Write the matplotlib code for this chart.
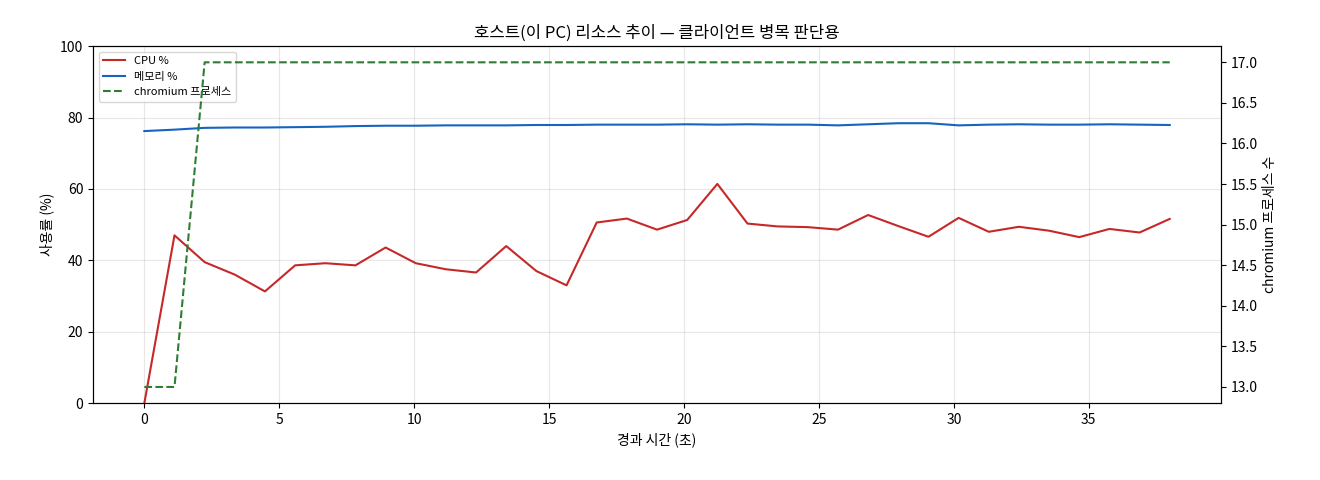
import numpy as np
import matplotlib
matplotlib.use("Agg")
import matplotlib.pyplot as plt

plt.rcParams['font.family'] = ['Noto Sans CJK KR', 'DejaVu Sans']

# 35 samples over ~38 s
elapsed = np.linspace(0, 38, 35)
cpu = [0, 47, 39.5, 36, 31.3, 38.6, 39.2, 38.6, 43.6, 39.2, 37.5, 36.6, 44, 37, 33,
       50.6, 51.7, 48.6, 51.3, 61.4, 50.3, 49.5, 49.3, 48.6, 52.7, 49.6, 46.6, 51.9,
       48, 49.4, 48.3, 46.5, 48.8, 47.8, 51.6]
mem = [76.2, 76.6, 77.1, 77.2, 77.2, 77.3, 77.4, 77.6, 77.7, 77.7, 77.8, 77.8, 77.8,
       77.9, 77.9, 78.0, 78.0, 78.0, 78.1, 78.0, 78.1, 78.0, 78.0, 77.8, 78.1, 78.4,
       78.4, 77.8, 78.0, 78.1, 78.0, 78.0, 78.1, 78.0, 77.9]
chromium = [13, 13] + [17] * 33

fig, ax = plt.subplots(figsize=(13.2, 4.8), dpi=100)
l1, = ax.plot(elapsed, cpu, color='#c62828', lw=1.5, label='CPU %')
l2, = ax.plot(elapsed, mem, color='#1565c0', lw=1.5, label='메모리 %')
ax.set_ylim(0, 100)
ax.set_xlim(-1.9, 39.9)
ax.set_xlabel('경과 시간 (초)')
ax.set_ylabel('사용률 (%)')
ax.grid(True, alpha=0.3)

ax2 = ax.twinx()
l3, = ax2.plot(elapsed, chromium, color='#2e7d32', lw=1.5, ls='--', label='chromium 프로세스')
ax2.set_ylim(12.8, 17.2)
ax2.set_ylabel('chromium 프로세스 수')

ax.legend(handles=[l1, l2, l3], loc='upper left', fontsize=8)
ax.set_title('호스트(이 PC) 리소스 추이 — 클라이언트 병목 판단용')
fig.subplots_adjust(left=0.0705, right=0.925, top=0.904, bottom=0.16)
fig.savefig('out.png')
